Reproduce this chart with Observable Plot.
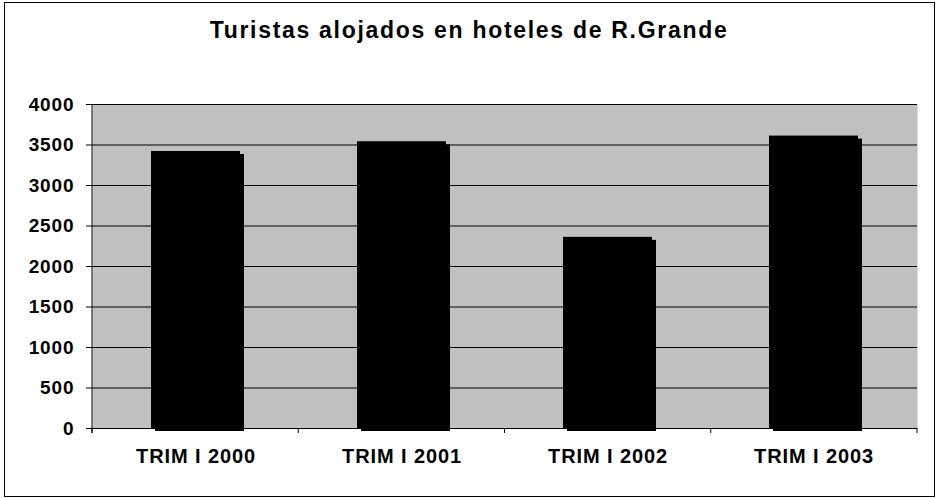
<!DOCTYPE html>
<html><head><meta charset="utf-8">
<script src="https://cdn.jsdelivr.net/npm/d3@7"></script>
<script src="https://cdn.jsdelivr.net/npm/@observablehq/plot@0.6"></script>
<style>
body{margin:0;background:#fff;}
#wrap{position:relative;width:938px;height:498px;font-family:"Liberation Sans",Arial,sans-serif;}
#border{position:absolute;left:4px;top:2px;width:931px;height:495px;border:1px solid #000;box-sizing:border-box;}
#title{position:absolute;left:0;width:938px;top:17px;text-align:center;font-weight:bold;font-size:23px;letter-spacing:1.7px;line-height:26px;}
#chart{position:absolute;left:0;top:0;}
</style></head><body>
<div id="wrap"><div id="border"></div><div id="title">Turistas alojados en hoteles de R.Grande</div><div id="chart"></div></div>
<script>
const categories = ["TRIM I 2000", "TRIM I 2001", "TRIM I 2002", "TRIM I 2003"];
const values = [3420, 3540, 2360, 3610];
const yTicks = [0, 500, 1000, 1500, 2000, 2500, 3000, 3500, 4000];
const data = categories.map((c, i) => ({cat: c, value: values[i]}));

const boundaryTicks = (index, scales, vals, dim) => {
  const g = d3.create("svg:g");
  const n = categories.length;
  const w = dim.width - dim.marginLeft - dim.marginRight;
  const y0 = scales.y(0);
  for (let k = 0; k <= n; k++) {
    const x = dim.marginLeft + k * w / n;
    g.append("line").attr("x1", x).attr("x2", x).attr("y1", y0).attr("y2", y0 + 5).attr("stroke", "black");
  }
  g.append("line").attr("x1", dim.marginLeft).attr("x2", dim.marginLeft)
    .attr("y1", dim.marginTop).attr("y2", y0 + 5).attr("stroke", "black");
  return g.node();
};

const plot = Plot.plot({
  width: 938, height: 498,
  marginLeft: 92, marginRight: 21, marginTop: 104, marginBottom: 70,
  x: {domain: categories, paddingInner: 0.57, paddingOuter: 0.285, label: null},
  y: {domain: [0, 4000], label: null},
  style: {fontFamily: "'Liberation Sans', Arial, sans-serif", fontWeight: "bold", color: "black", background: "transparent", overflow: "visible", letterSpacing: "0.9px"},
  marks: [
    Plot.frame({fill: "#c0c0c0", stroke: null}),
    Plot.ruleY(yTicks, {stroke: "black", strokeWidth: 1}),
    Plot.barY(data, {x: "cat", y: "value", fill: "black", dx: 4, dy: 3}),
    Plot.barY(data, {x: "cat", y: "value", fill: "black"}),
    Plot.ruleY([0], {stroke: "black"}),
    boundaryTicks,
    Plot.axisY({ticks: yTicks, tickFormat: d => String(d), tickSize: 6, tickPadding: 12, label: null, fontSize: 19, fontWeight: "bold"}),
    Plot.axisX({tickSize: 0, tickPadding: 20, label: null, fontSize: 20, fontWeight: "bold"})
  ]
});
document.getElementById("chart").appendChild(plot);
</script>
</body></html>
